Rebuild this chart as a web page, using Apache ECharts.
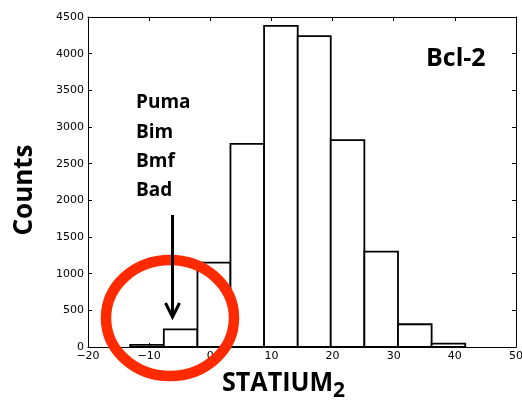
<!DOCTYPE html>
<html>
<head>
<meta charset="utf-8">
<title>STATIUM2 score histogram – Bcl-2</title>
<script src="https://cdn.jsdelivr.net/npm/echarts@6/dist/echarts.min.js"></script>
<style>
  html, body { margin: 0; padding: 0; background: #fff; }
  #chart { width: 522px; height: 400px; }
</style>
</head>
<body>
<div id="chart"></div>
<script>
// Histogram bin edges (STATIUM2 score) and counts per bin
const binEdges = [-13.1, -7.6, -2.1, 3.3, 8.8, 14.3, 19.7, 25.2, 30.7, 36.2, 41.7];
const binCounts = [30, 240, 1150, 2770, 4380, 4240, 2820, 1300, 310, 45];

// Axis ranges and tick steps
const xRange = [-20, 50];
const xStep = 10;
const yRange = [0, 4500];
const yStep = 500;

// Text shown on the plot
const receptorName = 'Bcl-2';
const peptideNames = ['Puma', 'Bim', 'Bmf', 'Bad'];
const yTitle = 'Counts';
const xTitle = 'STATIUM';
const xTitleSub = '2';

const tickFont = { fontFamily: 'DejaVu Sans', fontSize: 11, color: '#000' };
const boldFont = "'Open Sans', 'Noto Sans', sans-serif";

const histData = binCounts.map((c, i) => [binEdges[i], binEdges[i + 1], c]);

function makeXAxis(position, showLabels) {
  return {
    type: 'value', position: position, min: xRange[0], max: xRange[1], interval: xStep,
    axisLine: { show: true, onZero: false, lineStyle: { color: '#000', width: 1 } },
    axisTick: { show: true, inside: true, length: 4, lineStyle: { color: '#000' } },
    axisLabel: Object.assign({
      show: showLabels, margin: 4,
      formatter: v => String(v).replace('-', '\u2212')
    }, tickFont),
    splitLine: { show: false }
  };
}
function makeYAxis(position, showLabels) {
  return {
    type: 'value', position: position, min: yRange[0], max: yRange[1], interval: yStep,
    axisLine: { show: true, onZero: false, lineStyle: { color: '#000', width: 1 } },
    axisTick: { show: true, inside: true, length: 4, lineStyle: { color: '#000' } },
    axisLabel: Object.assign({ show: showLabels, margin: 4, formatter: v => String(v) }, tickFont),
    splitLine: { show: false }
  };
}

const graphics = [];
// red ring around the low-scoring tail
graphics.push({
  type: 'ellipse', z: 50,
  shape: { cx: 170, cy: 318, rx: 64, ry: 58 },
  style: { fill: null, stroke: '#ff2a00', lineWidth: 10.5 }
});
// arrow pointing down into the ring
graphics.push({
  type: 'line', z: 60,
  shape: { x1: 172.5, y1: 215, x2: 172.5, y2: 316 },
  style: { stroke: '#000', lineWidth: 3 }
});
graphics.push({
  type: 'polyline', z: 60,
  shape: { points: [[165.5, 303], [172.5, 317], [179.5, 303]] },
  style: { stroke: '#000', lineWidth: 3, fill: null, lineJoin: 'miter' }
});
// peptide names
peptideNames.forEach((name, i) => {
  graphics.push({
    type: 'text', z: 60, x: 136, y: 103 + i * 29.3,
    style: { text: name, font: 'bold 19px ' + boldFont, fill: '#000',
             textAlign: 'left', textVerticalAlign: 'middle' }
  });
});
// receptor label
graphics.push({
  type: 'text', z: 60, x: 426, y: 58.5,
  style: { text: receptorName, font: 'bold 25px ' + boldFont, fill: '#000',
           textAlign: 'left', textVerticalAlign: 'middle' }
});
// y axis title
graphics.push({
  type: 'text', z: 60, x: 25, y: 190, rotation: Math.PI / 2,
  style: { text: yTitle, font: 'bold 26px ' + boldFont, fill: '#000',
           textAlign: 'center', textVerticalAlign: 'middle' }
});
// x axis title with subscript
graphics.push({
  type: 'text', z: 60, x: 222, y: 383.5, scaleX: 0.93,
  style: { text: xTitle, font: 'bold 27px ' + boldFont, fill: '#000',
           textAlign: 'left', textVerticalAlign: 'middle' }
});
graphics.push({
  type: 'text', z: 60, x: 333, y: 391,
  style: { text: xTitleSub, font: 'bold 21px ' + boldFont, fill: '#000',
           textAlign: 'left', textVerticalAlign: 'middle' }
});

const chart = echarts.init(document.getElementById('chart'), null, { renderer: 'canvas' });
chart.setOption({
  animation: false,
  backgroundColor: '#fff',
  grid: { left: 88, top: 17, right: 6, bottom: 53, containLabel: false, outerBoundsMode: 'none' },
  xAxis: [makeXAxis('bottom', true), makeXAxis('top', false)],
  yAxis: [makeYAxis('left', true), makeYAxis('right', false)],
  series: [{
    type: 'custom',
    xAxisIndex: 0, yAxisIndex: 0,
    data: histData,
    encode: { x: [0, 1], y: 2 },
    renderItem: function (params, api) {
      const p0 = api.coord([api.value(0), 0]);
      const p1 = api.coord([api.value(1), api.value(2)]);
      return {
        type: 'rect',
        shape: { x: p0[0], y: p1[1], width: p1[0] - p0[0], height: p0[1] - p1[1] },
        style: { fill: '#fff', stroke: '#000', lineWidth: 1.8 }
      };
    }
  }],
  graphic: graphics
});
</script>
</body>
</html>
